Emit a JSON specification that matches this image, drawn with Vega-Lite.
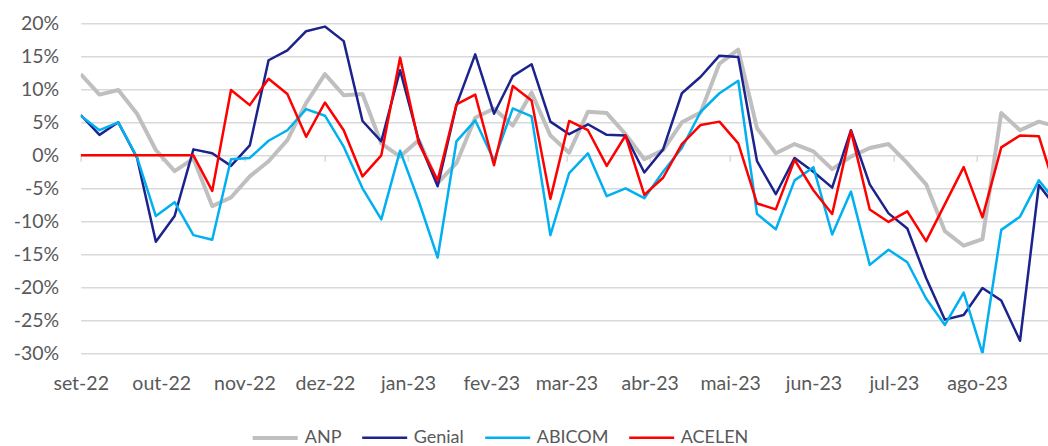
{
  "$schema": "https://vega.github.io/schema/vega-lite/v6.json",
  "width": 967.3,
  "height": 330,
  "autosize": {"type": "none"},
  "padding": {"left": 80.7, "top": 23.3, "right": 0, "bottom": 92.7},
  "background": "white",
  "config": {"view": {"stroke": null}, "font": "Lato"},
  "data": {
    "values": [
      {"d": "2022-09-01", "ANP": 12.3, "Genial": 6.1, "ABICOM": 6.0, "ACELEN": 0},
      {"d": "2022-09-08", "ANP": 9.2, "Genial": 3.1, "ABICOM": 3.8, "ACELEN": 0},
      {"d": "2022-09-15", "ANP": 9.9, "Genial": 5.0, "ABICOM": 5.0, "ACELEN": 0},
      {"d": "2022-09-22", "ANP": 6.3, "Genial": -0.4, "ABICOM": -0.3, "ACELEN": 0},
      {"d": "2022-09-29", "ANP": 0.8, "Genial": -13.1, "ABICOM": -9.2, "ACELEN": 0},
      {"d": "2022-10-06", "ANP": -2.4, "Genial": -9.2, "ABICOM": -7.1, "ACELEN": 0},
      {"d": "2022-10-13", "ANP": -0.5, "Genial": 0.9, "ABICOM": -12.1, "ACELEN": 0},
      {"d": "2022-10-20", "ANP": -7.7, "Genial": 0.3, "ABICOM": -12.8, "ACELEN": -5.4},
      {"d": "2022-10-27", "ANP": -6.4, "Genial": -1.6, "ABICOM": -0.6, "ACELEN": 9.9},
      {"d": "2022-11-03", "ANP": -3.2, "Genial": 1.5, "ABICOM": -0.4, "ACELEN": 7.6},
      {"d": "2022-11-10", "ANP": -0.9, "Genial": 14.4, "ABICOM": 2.2, "ACELEN": 11.6},
      {"d": "2022-11-17", "ANP": 2.3, "Genial": 15.9, "ABICOM": 3.8, "ACELEN": 9.3},
      {"d": "2022-11-24", "ANP": 7.9, "Genial": 18.8, "ABICOM": 7.0, "ACELEN": 2.8},
      {"d": "2022-12-01", "ANP": 12.3, "Genial": 19.5, "ABICOM": 6.0, "ACELEN": 8.0},
      {"d": "2022-12-08", "ANP": 9.1, "Genial": 17.3, "ABICOM": 1.3, "ACELEN": 3.8},
      {"d": "2022-12-15", "ANP": 9.3, "Genial": 5.2, "ABICOM": -5.0, "ACELEN": -3.2},
      {"d": "2022-12-22", "ANP": 1.8, "Genial": 2.1, "ABICOM": -9.7, "ACELEN": 0.0},
      {"d": "2022-12-29", "ANP": -0.2, "Genial": 12.9, "ABICOM": 0.7, "ACELEN": 14.8},
      {"d": "2023-01-05", "ANP": 2.3, "Genial": 2.2, "ABICOM": -7.0, "ACELEN": 1.8},
      {"d": "2023-01-12", "ANP": -4.2, "Genial": -4.7, "ABICOM": -15.5, "ACELEN": -3.8},
      {"d": "2023-01-19", "ANP": -1.2, "Genial": 7.6, "ABICOM": 2.1, "ACELEN": 7.7},
      {"d": "2023-01-26", "ANP": 5.7, "Genial": 15.3, "ABICOM": 5.3, "ACELEN": 9.2},
      {"d": "2023-02-02", "ANP": 7.1, "Genial": 6.3, "ABICOM": -0.8, "ACELEN": -1.5},
      {"d": "2023-02-09", "ANP": 4.5, "Genial": 12.0, "ABICOM": 7.1, "ACELEN": 10.5},
      {"d": "2023-02-16", "ANP": 9.5, "Genial": 13.8, "ABICOM": 5.9, "ACELEN": 8.3},
      {"d": "2023-02-23", "ANP": 3.0, "Genial": 5.1, "ABICOM": -12.1, "ACELEN": -6.6},
      {"d": "2023-03-02", "ANP": 0.4, "Genial": 3.2, "ABICOM": -2.7, "ACELEN": 5.2},
      {"d": "2023-03-09", "ANP": 6.6, "Genial": 4.7, "ABICOM": 0.3, "ACELEN": 3.8},
      {"d": "2023-03-16", "ANP": 6.4, "Genial": 3.1, "ABICOM": -6.2, "ACELEN": -1.6},
      {"d": "2023-03-23", "ANP": 3.2, "Genial": 3.0, "ABICOM": -5.0, "ACELEN": 3.0},
      {"d": "2023-03-30", "ANP": -0.6, "Genial": -2.6, "ABICOM": -6.5, "ACELEN": -6.0},
      {"d": "2023-04-06", "ANP": 0.8, "Genial": 0.9, "ABICOM": -2.5, "ACELEN": -3.4},
      {"d": "2023-04-13", "ANP": 5.0, "Genial": 9.4, "ABICOM": 1.1, "ACELEN": 1.7},
      {"d": "2023-04-20", "ANP": 6.5, "Genial": 11.9, "ABICOM": 6.6, "ACELEN": 4.6},
      {"d": "2023-04-27", "ANP": 13.9, "Genial": 15.1, "ABICOM": 9.4, "ACELEN": 5.1},
      {"d": "2023-05-04", "ANP": 16.0, "Genial": 14.9, "ABICOM": 11.3, "ACELEN": 1.8},
      {"d": "2023-05-11", "ANP": 4.1, "Genial": -0.9, "ABICOM": -8.9, "ACELEN": -7.3},
      {"d": "2023-05-18", "ANP": 0.3, "Genial": -5.9, "ABICOM": -11.2, "ACELEN": -8.2},
      {"d": "2023-05-25", "ANP": 1.7, "Genial": -0.4, "ABICOM": -3.8, "ACELEN": -0.7},
      {"d": "2023-06-01", "ANP": 0.6, "Genial": -2.5, "ABICOM": -1.8, "ACELEN": -5.3},
      {"d": "2023-06-08", "ANP": -2.1, "Genial": -4.9, "ABICOM": -12.0, "ACELEN": -8.9},
      {"d": "2023-06-15", "ANP": -0.2, "Genial": 3.8, "ABICOM": -5.5, "ACELEN": 3.7},
      {"d": "2023-06-22", "ANP": 1.1, "Genial": -4.4, "ABICOM": -16.6, "ACELEN": -8.2},
      {"d": "2023-06-29", "ANP": 1.7, "Genial": -8.8, "ABICOM": -14.3, "ACELEN": -10.1},
      {"d": "2023-07-06", "ANP": -1.2, "Genial": -11.1, "ABICOM": -16.2, "ACELEN": -8.5},
      {"d": "2023-07-13", "ANP": -4.4, "Genial": -18.6, "ABICOM": -21.7, "ACELEN": -13.0},
      {"d": "2023-07-20", "ANP": -11.5, "Genial": -24.9, "ABICOM": -25.7, "ACELEN": -7.4},
      {"d": "2023-07-27", "ANP": -13.7, "Genial": -24.2, "ABICOM": -20.8, "ACELEN": -1.8},
      {"d": "2023-08-03", "ANP": -12.7, "Genial": -20.1, "ABICOM": -30.0, "ACELEN": -9.4},
      {"d": "2023-08-10", "ANP": 6.4, "Genial": -22.0, "ABICOM": -11.3, "ACELEN": 1.2},
      {"d": "2023-08-17", "ANP": 3.8, "Genial": -28.1, "ABICOM": -9.3, "ACELEN": 3.0},
      {"d": "2023-08-24", "ANP": 5.1, "Genial": -4.5, "ABICOM": -3.8, "ACELEN": 2.9},
      {"d": "2023-08-31", "ANP": 4.3, "Genial": -8.2, "ABICOM": -7.3, "ACELEN": -6.2}
    ]
  },
  "transform": [
    {"fold": ["ANP", "Genial", "ABICOM", "ACELEN"], "as": ["serie", "valor"]}
  ],
  "mark": {"type": "line", "clip": true, "strokeJoin": "round", "strokeCap": "butt"},
  "encoding": {
    "x": {
      "field": "d",
      "type": "temporal",
      "scale": {
        "type": "utc",
        "nice": false,
        "domain": [
          {"year": 2022, "month": 9, "date": 1, "utc": true},
          {"year": 2023, "month": 8, "date": 27, "hours": 10, "utc": true}
        ]
      },
      "axis": {
        "title": null,
        "orient": "bottom",
        "offset": -198,
        "values": [
          {"year": 2022, "month": 9, "date": 1, "utc": true},
          {"year": 2022, "month": 10, "date": 1, "utc": true},
          {"year": 2022, "month": 11, "date": 1, "utc": true},
          {"year": 2022, "month": 12, "date": 1, "utc": true},
          {"year": 2023, "month": 1, "date": 1, "utc": true},
          {"year": 2023, "month": 2, "date": 1, "utc": true},
          {"year": 2023, "month": 3, "date": 1, "utc": true},
          {"year": 2023, "month": 4, "date": 1, "utc": true},
          {"year": 2023, "month": 5, "date": 1, "utc": true},
          {"year": 2023, "month": 6, "date": 1, "utc": true},
          {"year": 2023, "month": 7, "date": 1, "utc": true},
          {"year": 2023, "month": 8, "date": 1, "utc": true}
        ],
        "labelExpr": "['jan','fev','mar','abr','mai','jun','jul','ago','set','out','nov','dez'][utcmonth(datum.value)] + '-' + utcFormat(datum.value, '%y')",
        "domain": false,
        "grid": false,
        "ticks": true,
        "tickColor": "#d9d9d9",
        "tickSize": 6,
        "tickWidth": 1.5,
        "labelPadding": 213,
        "labelFlush": false,
        "labelOverlap": false,
        "labelBound": false,
        "labelFont": "Lato",
        "labelFontSize": 19.5,
        "labelColor": "#595959"
      }
    },
    "y": {
      "field": "valor",
      "type": "quantitative",
      "scale": {"domain": [-30, 20], "nice": false},
      "axis": {
        "title": null,
        "values": [-30, -25, -20, -15, -10, -5, 0, 5, 10, 15, 20],
        "labelExpr": "datum.value + '%'",
        "grid": true,
        "gridColor": "#d9d9d9",
        "gridWidth": 1.5,
        "domain": false,
        "ticks": false,
        "labelPadding": 22,
        "labelFont": "Lato",
        "labelFontSize": 19.5,
        "labelColor": "#595959"
      }
    },
    "color": {
      "field": "serie",
      "type": "nominal",
      "sort": ["ANP", "Genial", "ABICOM", "ACELEN"],
      "scale": {
        "domain": ["ANP", "Genial", "ABICOM", "ACELEN"],
        "range": ["#bfbfbf", "#1c238c", "#00b0f0", "#ff0000"]
      },
      "legend": {
        "title": null,
        "orient": "none",
        "legendX": 170,
        "legendY": 390,
        "direction": "horizontal",
        "symbolType": "stroke",
        "symbolSize": 2025,
        "symbolStrokeWidth": 3,
        "labelFont": "Lato",
        "labelFontSize": 18,
        "labelColor": "#595959",
        "labelOffset": 5,
        "columnPadding": 15,
        "padding": 0
      }
    },
    "strokeWidth": {
      "field": "serie",
      "type": "ordinal",
      "scale": {
        "type": "ordinal",
        "domain": ["ANP", "Genial", "ABICOM", "ACELEN"],
        "range": [4, 2.5, 2.5, 2.5]
      },
      "legend": null
    }
  }
}
